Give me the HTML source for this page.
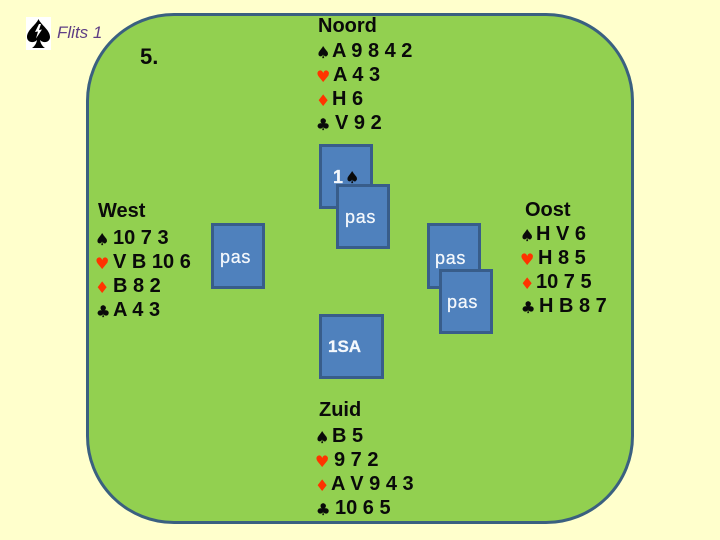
<!DOCTYPE html>
<html><head><meta charset="utf-8"><style>
html,body{margin:0;padding:0}
body{width:720px;height:540px;position:relative;overflow:hidden;background:#FFFFCC;font-family:"Liberation Sans",sans-serif;color:#0a0a0a}
.t{position:absolute;font-size:20px;font-weight:bold;line-height:24px;white-space:pre}
.s{position:absolute;font-family:"DejaVu Sans",sans-serif;font-size:16px;line-height:24px;color:#0a0a0a;margin-top:2px;margin-left:-1px;-webkit-text-stroke:.3px #0a0a0a}
.r{color:#FF3300;-webkit-text-stroke:0}
.c{position:absolute;box-sizing:border-box;background:#4F81BD;border:3px solid #385D8A}
.p{position:absolute;font-size:18px;letter-spacing:.7px;-webkit-text-stroke:.25px #F4F8FC;line-height:22px;color:#F4F8FC;white-space:pre}
</style></head><body>
<div style="position:absolute;left:86px;top:13px;width:548px;height:511px;box-sizing:border-box;background:#92D050;border:3px solid #3A6080;border-radius:88px"></div>

<svg style="position:absolute;left:26px;top:17px" width="25" height="33" viewBox="0 0 25 33">
<rect width="25" height="33" fill="#fff"/>
<path d="M12.5 2C10 8 1 13 1 20c0 5 6 7 10 3-.5 3-2 6-5 8h13c-3-2-4.500-5-5-8 4 4 10 2 10-3 0-7-9-12-11.500-18z" fill="#000"/>
<path d="M13 7l-4 8 3-.5-2 7 6-9-3 .5 2-6z" fill="#fff"/>
</svg>
<div style="position:absolute;left:57px;top:23px;font-size:17px;line-height:20px;font-style:italic;color:#5F3F85;white-space:pre">Flits 1</div>
<div class="t" style="left:140px;top:45px;font-size:22px">5.</div>

<div class="t" style="left:318px;top:14px">Noord</div>
<div class="s" style="left:317px;top:39px">♠</div><div class="t" style="left:332px;top:39px">A 9 8 4 2</div>
<div class="s r" style="left:317px;top:63px">♥</div><div class="t" style="left:333px;top:63px">A 4 3</div>
<div class="s r" style="left:317px;top:87px">♦</div><div class="t" style="left:332px;top:87px">H 6</div>
<div class="s" style="left:317px;top:111px">♣</div><div class="t" style="left:335px;top:111px">V 9 2</div>

<div class="c" style="left:319px;top:144px;width:54px;height:65px"></div>
<div class="p" style="left:333px;top:166px;font-weight:bold">1</div>
<div class="s" style="left:346px;top:164px">♠</div>
<div class="c" style="left:336px;top:184px;width:54px;height:65px"></div>
<div class="p" style="left:345px;top:206px">pas</div>

<div class="t" style="left:98px;top:199px">West</div>
<div class="s" style="left:96px;top:226px">♠</div><div class="t" style="left:113px;top:226px">10 7 3</div>
<div class="s r" style="left:96px;top:250px">♥</div><div class="t" style="left:113px;top:250px">V B 10 6</div>
<div class="s r" style="left:96px;top:274px">♦</div><div class="t" style="left:113px;top:274px">B 8 2</div>
<div class="s" style="left:97px;top:298px">♣</div><div class="t" style="left:113px;top:298px">A 4 3</div>

<div class="c" style="left:211px;top:223px;width:54px;height:66px"></div>
<div class="p" style="left:220px;top:246px">pas</div>

<div class="c" style="left:427px;top:223px;width:54px;height:66px"></div>
<div class="p" style="left:435px;top:247px">pas</div>
<div class="c" style="left:439px;top:269px;width:54px;height:65px"></div>
<div class="p" style="left:447px;top:291px">pas</div>

<div class="t" style="left:525px;top:198px">Oost</div>
<div class="s" style="left:521px;top:222px">♠</div><div class="t" style="left:536px;top:222px">H V 6</div>
<div class="s r" style="left:521px;top:246px">♥</div><div class="t" style="left:538px;top:246px">H 8 5</div>
<div class="s r" style="left:521px;top:270px">♦</div><div class="t" style="left:536px;top:270px">10 7 5</div>
<div class="s" style="left:522px;top:294px">♣</div><div class="t" style="left:539px;top:294px">H B 8 7</div>

<div class="c" style="left:319px;top:314px;width:65px;height:65px"></div>
<div class="p" style="left:328px;top:336px;font-size:17px;letter-spacing:0;font-weight:bold">1SA</div>

<div class="t" style="left:319px;top:398px">Zuid</div>
<div class="s" style="left:316px;top:424px">♠</div><div class="t" style="left:332px;top:424px">B 5</div>
<div class="s r" style="left:316px;top:448px">♥</div><div class="t" style="left:334px;top:448px">9 7 2</div>
<div class="s r" style="left:316px;top:472px">♦</div><div class="t" style="left:331px;top:472px">A V 9 4 3</div>
<div class="s" style="left:317px;top:496px">♣</div><div class="t" style="left:335px;top:496px">10 6 5</div>
</body></html>
